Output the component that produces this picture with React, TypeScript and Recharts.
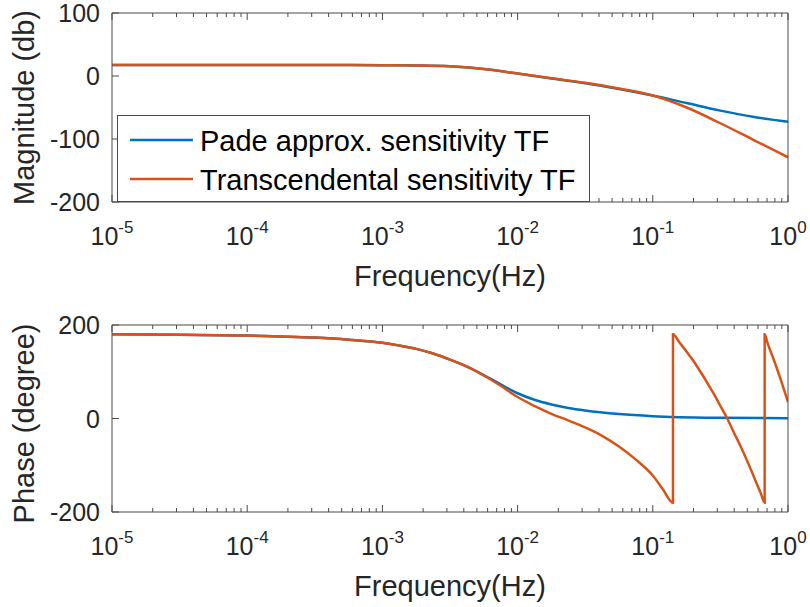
import { LineChart, Line, XAxis, YAxis, Legend } from "recharts";

const FONT = '"Liberation Sans", Arial, Helvetica, sans-serif';
const AXIS_COLOR = "#4a4a4a";
const TEXT_COLOR = "#262626";
const PADE_COLOR = "#0072BD";
const TRANS_COLOR = "#D95319";
const LINE_W = 2.5;

const seriesNames = ["Pade approx. sensitivity TF", "Transcendental sensitivity TF"];

// magnitude (dB)
const magFreq = [1e-5, 1e-4, 3.16e-4, 1e-3, 1.78e-3, 3.16e-3, 5.62e-3, 1e-2, 1.78e-2, 3.16e-2, 5.62e-2, 1e-1, 1.78e-1, 3.16e-1, 5.62e-1, 1];
const magPade = [17.5, 17.5, 17.4, 17.2, 16.8, 15.5, 11, 4, -4, -11.5, -20.5, -31, -43, -55, -65, -72.5];
const magTrans = [17.5, 17.5, 17.4, 17.2, 16.8, 15.5, 11, 4, -3.7, -10.8, -19.8, -31, -50, -75, -102, -129];

// phase (degree)
const phasePadeFreq = [
  1e-5, 3.16e-5, 1e-4, 3.16e-4, 5.62e-4, 1e-3, 1.33e-3, 1.78e-3, 2.37e-3, 3.16e-3, 4.22e-3, 5.62e-3, 7.5e-3,
  1e-2, 1.33e-2, 1.78e-2, 2.37e-2, 3.16e-2, 5.62e-2, 1e-1, 3.16e-1, 1,
];
const phasePade = [180, 179, 177.5, 173, 168.5, 162, 156, 149, 139, 126, 111, 93, 73, 54, 40, 30, 22.5, 17, 9.5, 5, 1.5, 0.5];
const phaseTransFreq = [
  1e-5, 3.16e-5, 1e-4, 3.16e-4, 5.62e-4, 1e-3, 1.33e-3, 1.78e-3, 2.37e-3, 3.16e-3, 4.22e-3, 5.62e-3, 7.5e-3,
  1e-2, 1.33e-2, 1.78e-2, 2.37e-2, 3.16e-2, 4.22e-2, 5.62e-2, 7.5e-2, 1e-1, 1.19e-1, 1.41e-1,
  1.41e-1, 1.58e-1, 1.78e-1, 2.0e-1, 2.24e-1, 2.51e-1, 2.82e-1, 3.16e-1, 3.55e-1, 3.98e-1, 4.47e-1, 5.01e-1, 5.62e-1, 6.31e-1, 6.72e-1,
  6.72e-1, 7.08e-1, 7.94e-1, 8.91e-1, 1,
];
const phaseTrans = [
  180, 179, 177.5, 173, 168.5, 162, 156, 149, 139, 126, 111, 92, 70,
  46, 27, 10, -4, -19, -37, -60, -88, -122, -152, -180,
  180, 162, 143, 123, 101, 78, 53, 27, 0, -30, -60, -92, -126, -161, -180,
  180, 160, 122, 80, 35,
];

const xMajorTicks = [1e-5, 1e-4, 1e-3, 1e-2, 1e-1, 1];
const xTickExponents = ["-5", "-4", "-3", "-2", "-1", "0"];
const magTicks = [-200, -100, 0, 100];
const phaseTicks = [-200, 0, 200];

// log minor ticks 2..9 inside each decade
const xMinorTicks: number[] = [];
xMajorTicks.slice(0, -1).forEach((d) => {
  for (let k = 2; k <= 9; k++) xMinorTicks.push(d * k);
});
const xAllTicks = [...xMajorTicks, ...xMinorTicks].sort((a, b) => a - b);

const magData = magFreq.map((f, i) => ({ f, pade: magPade[i], trans: magTrans[i] }));
const phasePadeData = phasePadeFreq.map((f, i) => ({ f, value: phasePade[i] }));
const phaseTransData = phaseTransFreq.map((f, i) => ({ f, value: phaseTrans[i] }));

const BottomXTick = (props: any) => {
  const { x, y, payload } = props;
  const idx = xMajorTicks.indexOf(payload.value);
  const major = idx >= 0;
  return (
    <g>
      <line x1={x} x2={x} y1={y} y2={y - (major ? 7 : 4)} stroke={AXIS_COLOR} />
      {major && (
        <text x={x} y={y + 43} textAnchor="middle" fontSize={25} fontFamily={FONT} fill={TEXT_COLOR}>
          10
          <tspan dy={-12} fontSize={17}>
            {xTickExponents[idx]}
          </tspan>
        </text>
      )}
    </g>
  );
};

const TopXTick = (props: any) => {
  const { x, y, payload } = props;
  const major = xMajorTicks.includes(payload.value);
  return <line x1={x} x2={x} y1={y} y2={y + (major ? 7 : 4)} stroke={AXIS_COLOR} />;
};

const LeftYTick = (props: any) => {
  const { x, y, payload } = props;
  return (
    <g>
      <line x1={x} x2={x + 7} y1={y} y2={y} stroke={AXIS_COLOR} />
      <text x={x - 12} y={y + 9} textAnchor="end" fontSize={25} fontFamily={FONT} fill={TEXT_COLOR}>
        {payload.value}
      </text>
    </g>
  );
};

const RightYTick = (props: any) => {
  const { x, y } = props;
  return <line x1={x} x2={x - 7} y1={y} y2={y} stroke={AXIS_COLOR} />;
};

const xTitle = (p: any) => {
  const vb = p.viewBox || {};
  return (
    <text x={vb.x + vb.width / 2} y={vb.y + 84} textAnchor="middle" fontSize={29} fontFamily={FONT} fill={TEXT_COLOR}>
      Frequency(Hz)
    </text>
  );
};

const yTitle = (text: string, shift: number) => (p: any) => {
  const vb = p.viewBox || {};
  const cx = 33.5;
  const cy = vb.y + vb.height / 2 + shift;
  return (
    <text x={cx} y={cy} transform={`rotate(-90, ${cx}, ${cy})`} textAnchor="middle" fontSize={29} fontFamily={FONT} fill={TEXT_COLOR}>
      {text}
    </text>
  );
};

const LegendBox = (props: any) => {
  const items = props.payload || [];
  return (
    <div
      style={{
        position: "relative",
        width: 473,
        height: 87,
        boxSizing: "border-box",
        border: `1px solid ${AXIS_COLOR}`,
        background: "#fff",
        fontFamily: FONT,
        fontSize: 29,
        color: "#000",
      }}
    >
      {items.map((entry: any, i: number) => (
        <div
          key={entry.value}
          style={{ position: "absolute", left: 0, top: 4 + i * 39.4, height: 39.4, display: "flex", alignItems: "center", whiteSpace: "nowrap" }}
        >
          <svg width={63} height={6} style={{ marginLeft: 12 }}>
            <line x1={0} x2={63} y1={3} y2={3} stroke={entry.color} strokeWidth={LINE_W} />
          </svg>
          <span style={{ marginLeft: 7, paddingTop: 3 }}>{entry.value}</span>
        </div>
      ))}
    </div>
  );
};

const commonX = {
  type: "number" as const,
  dataKey: "f",
  scale: "log" as const,
  domain: [1e-5, 1],
  allowDataOverflow: true,
  ticks: xAllTicks,
  interval: 0 as const,
  tickLine: false,
  tickSize: 0,
  tickMargin: 0,
  axisLine: { stroke: AXIS_COLOR },
};

const commonY = {
  type: "number" as const,
  interval: 0 as const,
  tickLine: false,
  tickSize: 0,
  tickMargin: 0,
  axisLine: { stroke: AXIS_COLOR },
};

export default function App() {
  return (
    <div style={{ position: "absolute", left: 0, top: 0, width: 810, height: 607, background: "#fff", fontFamily: FONT }}>
      <div style={{ position: "absolute", left: 0, top: 0 }}>
        <LineChart width={810} height={303} data={magData} margin={{ top: 12, right: 21, bottom: 0, left: 0 }}>
          <XAxis {...commonX} height={101} tick={<BottomXTick />} label={{ content: xTitle }} />
          <XAxis {...commonX} xAxisId="top" orientation="top" height={1} tick={<TopXTick />} />
          <YAxis {...commonY} domain={[-200, 100]} ticks={magTicks} width={112} tick={<LeftYTick />} label={{ content: yTitle("Magnitude (db)", 0) }} />
          <YAxis {...commonY} yAxisId="right" orientation="right" domain={[-200, 100]} ticks={magTicks} width={1} tick={<RightYTick />} />
          <Line type="monotone" dataKey="pade" name={seriesNames[0]} stroke={PADE_COLOR} strokeWidth={LINE_W} dot={false} activeDot={false} isAnimationActive={false} />
          <Line type="monotone" dataKey="trans" name={seriesNames[1]} stroke={TRANS_COLOR} strokeWidth={LINE_W} dot={false} activeDot={false} isAnimationActive={false} />
          <Legend
            layout="horizontal"
            verticalAlign="middle"
            align="center"
            wrapperStyle={{ left: 117, top: 115, width: 473, height: 87 }}
            content={<LegendBox />}
          />
        </LineChart>
      </div>
      <div style={{ position: "absolute", left: 0, top: 303 }}>
        <LineChart width={810} height={304} margin={{ top: 21, right: 21, bottom: 0, left: 0 }}>
          <XAxis {...commonX} height={95} tick={<BottomXTick />} label={{ content: xTitle }} />
          <XAxis {...commonX} xAxisId="top" orientation="top" height={1} tick={<TopXTick />} />
          <YAxis {...commonY} domain={[-200, 200]} ticks={phaseTicks} width={112} tick={<LeftYTick />} label={{ content: yTitle("Phase (degree)", 5) }} />
          <YAxis {...commonY} yAxisId="right" orientation="right" domain={[-200, 200]} ticks={phaseTicks} width={1} tick={<RightYTick />} />
          <Line data={phasePadeData} type="monotone" dataKey="value" name={seriesNames[0]} stroke={PADE_COLOR} strokeWidth={LINE_W} dot={false} activeDot={false} isAnimationActive={false} />
          <Line data={phaseTransData} type="monotone" dataKey="value" name={seriesNames[1]} stroke={TRANS_COLOR} strokeWidth={LINE_W} dot={false} activeDot={false} isAnimationActive={false} />
        </LineChart>
      </div>
    </div>
  );
}
